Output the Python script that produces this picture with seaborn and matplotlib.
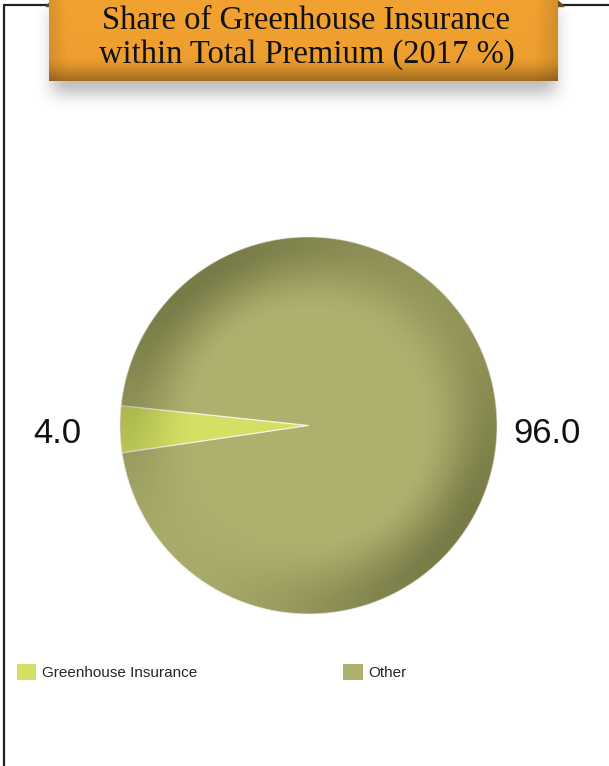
import numpy as np
import matplotlib
matplotlib.use("Agg")
import matplotlib.pyplot as plt
from matplotlib.patches import Circle, Polygon
from matplotlib.lines import Line2D
import seaborn as sns

# ---- data ----
categories = ["Greenhouse Insurance", "Other"]
shares = [4.0, 96.0]
value_labels = ["4.0", "96.0"]
slice_colors = ["#D3E063", "#AEB06E"]
title_lines = ["Share of Greenhouse Insurance", "within Total Premium (2017 %)"]

sns.set_theme(style="white")
plt.rcParams["font.family"] = ["Liberation Sans", "DejaVu Sans"]

W, H, DPI = 609, 766, 100
fig = plt.figure(figsize=(W / DPI, H / DPI), dpi=DPI)
fig.patch.set_facecolor("white")

# ---- background layer in pixel coordinates ----
bg = fig.add_axes([0, 0, 1, 1], zorder=0)
bg.axis("off")


def gauss_blur(img, sigma):
    rad = int(3 * sigma)
    x = np.arange(-rad, rad + 1)
    k = np.exp(-0.5 * (x / sigma) ** 2)
    k /= k.sum()
    out = np.apply_along_axis(lambda v: np.convolve(v, k, mode="same"), 0, img)
    out = np.apply_along_axis(lambda v: np.convolve(v, k, mode="same"), 1, out)
    return out


# drop shadow of the title banner
mask = np.zeros((H, W))
mask[8:94, 52:556] = 1.0
shadow = gauss_blur(mask, 8.0)
shadow_rgba = np.zeros((H, W, 4))
shadow_rgba[..., 3] = 0.27 * shadow
bg.imshow(shadow_rgba, extent=[0, W, H, 0], zorder=1, interpolation="bilinear")

# frame lines
bg.add_line(Line2D([4, 4], [5, H + 5], color="#222222", lw=1.6, zorder=2))
bg.add_line(Line2D([4, 50], [5, 5], color="#222222", lw=1.6, zorder=2))
bg.add_line(Line2D([560, W + 5], [5, 5], color="#222222", lw=1.6, zorder=2))

# ribbon folds
bg.add_patch(Polygon([(46, 6.5), (53, 0), (60, 0), (60, 6.5)],
                     closed=True, color="#6E4B12", zorder=2))
bg.add_patch(Polygon([(549, 0), (557, 0), (564, 6.5), (549, 6.5)],
                     closed=True, color="#6E4B12", zorder=2))

# title banner with shaded gradient
bx0, bx1, by0, by1 = 49, 558, 0, 81.5
bh, bw = 82, 509
yy = np.linspace(0, 1, bh)[:, None]
xx = np.linspace(0, 1, bw)[None, :]
top = np.array([242, 162, 48]) / 255.0
vert = 1.0 - 0.30 * np.clip((yy - 0.72) / 0.28, 0, 1) ** 1.3 - 0.03 * yy
edge = 1.0 - 0.10 * np.clip(1 - xx / 0.035, 0, 1) - 0.12 * np.clip((xx - 0.955) / 0.045, 0, 1)
shade = (vert * edge)[..., None]
banner = np.clip(top[None, None, :] * shade, 0, 1)
bg.imshow(banner, extent=[bx0, bx1, by1, by0], zorder=3, interpolation="bilinear")
for i, line in enumerate(title_lines):
    bg.text((bx0 + bx1) / 2 + 3, 29 + i * 34, line, ha="center", va="baseline",
            fontsize=23.5, color="#111111",
            family=["Liberation Serif", "DejaVu Serif"], zorder=4)
bg.set_xlim(0, W)
bg.set_ylim(H, 0)

# ---- pie ----
cx, cy, R = 308.5, 425.5, 188.5
lim = 1.5
side = 2 * lim * R
ax = fig.add_axes([(cx - side / 2) / W, (H - cy - side / 2) / H, side / W, side / H], zorder=5)
ax.patch.set_alpha(0)

# first slice centred just below the 9 o'clock direction
start = 181.15 - shares[0] / sum(shares) * 360 / 2
wedges, _ = ax.pie(shares, colors=slice_colors, startangle=start, counterclock=True,
                   radius=1.0, wedgeprops=dict(edgecolor="#F4F4E8", linewidth=0.8))

# bevel-like shading around the rim
n = 600
g = np.linspace(-1, 1, n)
X, Y = np.meshgrid(g, g[::-1])
r = np.hypot(X, Y)
th = np.arctan2(Y, X)
ang = 0.65 + 0.35 * np.cos(2 * (th - np.deg2rad(135))) + 0.2 * np.cos(th - np.deg2rad(45))
ang = np.clip(ang, 0, 1)
t = np.clip((r - 0.6) / 0.38, 0, 1)
rad = t * t * (3 - 2 * t)
rim = np.zeros((n, n, 4))
rim[..., 0] = 0.12
rim[..., 1] = 0.13
rim[..., 2] = 0.02
rim[..., 3] = 0.37 * rad * ang
img = ax.imshow(rim, extent=[-1, 1, -1, 1], zorder=3, interpolation="bilinear")
img.set_clip_path(Circle((0, 0), 1.0, transform=ax.transData))

# value labels on either side of the pie
label_pos = [(-1.33, -0.045), (1.265, -0.045)]
for (lx, ly), txt in zip(label_pos, value_labels):
    ax.text(lx, ly, txt, ha="center", va="center",
            fontsize=25, color="#111111", family=["Liberation Sans", "DejaVu Sans"])

ax.set_xlim(-lim, lim)
ax.set_ylim(-lim, lim)
ax.set_aspect("equal")
ax.axis("off")

# ---- legend ----
leg = fig.legend(wedges, categories, loc="upper left",
                 bbox_to_anchor=(11 / W, 1 - 658 / H), ncol=2, frameon=False,
                 handlelength=1.25, handleheight=1.25,
                 handletextpad=0.35, columnspacing=9.6, borderaxespad=0,
                 prop=dict(family=["Liberation Sans", "DejaVu Sans"], size=11))
for h in leg.legend_handles:
    h.set_edgecolor("none")

fig.savefig("out.png", dpi=DPI)
